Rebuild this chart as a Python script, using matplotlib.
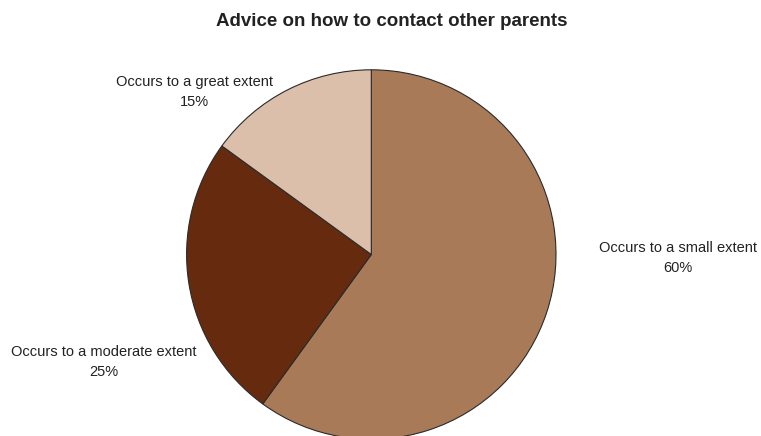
import matplotlib
matplotlib.use("Agg")
import matplotlib.pyplot as plt

title = "Advice on how to contact other parents"
categories = ["Occurs to a small extent", "Occurs to a moderate extent", "Occurs to a great extent"]
shares = [60, 25, 15]
colors = ["#A97A57", "#662B0E", "#DBBFAA"]

W, H = 761, 436
fig = plt.figure(figsize=(W / 100, H / 100), dpi=100)
plt.rcParams["font.family"] = ["Liberation Sans", "DejaVu Sans"]

cx, cy, r = 371.3, 254.5, 184.7
ax = fig.add_axes([(cx - r) / W, (H - cy - r) / H, 2 * r / W, 2 * r / H])
wedges, _ = ax.pie(shares, colors=colors, startangle=90, counterclock=False,
                   wedgeprops=dict(edgecolor="#2a2a2a", linewidth=0.8),
                   radius=1.0)
for w in wedges:
    w.set_clip_on(False)
ax.set_xlim(-1, 1)
ax.set_ylim(-1, 1)
ax.set_aspect("equal")
ax.axis("off")

# label block centres in pixel coordinates
label_pos = [(678, 258), (104, 362), (194, 92)]
for cat, val, (px, py) in zip(categories, shares, label_pos):
    fig.text(px / W, 1 - py / H, f"{cat}\n{val}%", ha="center", va="center",
             fontsize=10.5, color="#222222", linespacing=1.6)

fig.text(392 / W, 1 - 22 / H, title, ha="center", va="center",
         fontsize=13.5, fontweight="bold", color="#222222")

fig.savefig("out.png", dpi=100)
